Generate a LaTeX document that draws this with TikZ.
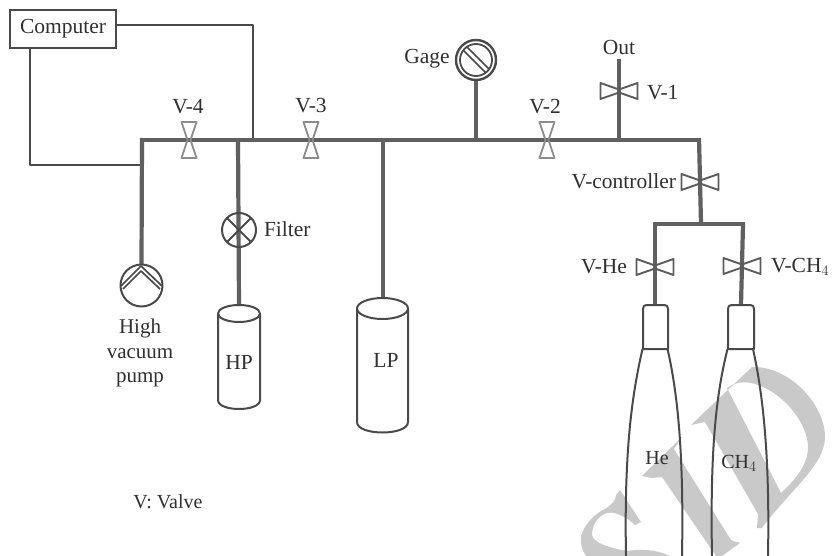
\documentclass[tikz,border=0pt]{standalone}
\usepackage{fontspec}
\setmainfont{Liberation Serif}
\definecolor{wm}{HTML}{C9C9C9}
\definecolor{pipec}{HTML}{606060}
\definecolor{ink}{HTML}{4A4A4A}
\definecolor{txt}{HTML}{303030}
\tikzset{
  pipe/.style={draw=pipec,line width=4.2pt,line cap=butt},
  wire/.style={draw=ink,line width=1.7pt,line join=round},
  outline/.style={draw=ink,line width=2pt,line join=round},
  lbl/.style={text=txt,font=\fontsize{21.5}{24}\selectfont,inner sep=0pt,outer sep=0pt},
  valvev/.pic={\draw[draw=gray!90,line width=1.8pt,line join=round] (-7.5,-18)--(7.5,-18)--(1.5,0)--(7.5,18)--(-7.5,18)--(-1.5,0)--cycle;},
  valveh/.pic={\draw[draw=ink!90,line width=1.9pt,line join=round] (-18.5,-8)--(0,-1.5)--(18.5,-8)--(18.5,8)--(0,1.5)--(-18.5,8)--cycle;},
}
\begin{document}
\begin{tikzpicture}[x=1pt,y=-1pt]
\useasboundingbox (0,0) rectangle (832,556);
\clip (0,0) rectangle (832,556);
\fill[white] (0,0) rectangle (832,556);
% watermark
\fill[wm] (620,490)--(641,522)--(635,525)
  .. controls (628,518) and (616,511) .. (607,513)
  .. controls (597,516) and (592,526) .. (592,535)
  .. controls (593,543) and (610,548) .. (627,551)
  .. controls (640,549) and (655,549) .. (670,556)
  --(586,556)
  .. controls (582,550) and (580,544) .. (581,536)
  .. controls (584,526) and (592,516) .. (603,510)
  .. controls (612,505) and (616,500) .. (616,495)--cycle;
\fill[wm] (642,476)--(682,437)--(674,449)--(731,540)--(740,543)--(722,556)--(716,556)--(662,477)--(652,478)--cycle;
\fill[wm,even odd rule] (691,425)--(752,367)
  .. controls (790,366) and (825,405) .. (825,437)
  .. controls (825,465) and (790,490) .. (762,528)
  --(757,528)--(758,514)--(705,422)--cycle
  (727,388) .. controls (735,382) and (745,381) .. (755,384)
  .. controls (785,393) and (808,425) .. (808,447)
  .. controls (808,465) and (795,480) .. (781,493)--cycle;
% coordinates
\coordinate (nw) at (142,140);
\coordinate (ne) at (699,140);
\coordinate (tf) at (238,140);
\coordinate (tw) at (253,140);
\coordinate (tl) at (383,140);
\coordinate (tg) at (476,140);
\coordinate (to) at (619,140);
\coordinate (tb) at (701,224);
\coordinate (bl) at (655,224);
\coordinate (br) at (743,224);
\coordinate (outend) at (619,59);
\coordinate (v4) at (189,140);
\coordinate (v3) at (311,140);
\coordinate (v2) at (547,140);
\coordinate (v1) at (619,91);
\coordinate (vc) at (700,182);
\coordinate (vhe) at (655,267);
\coordinate (vch) at (742,266);
% nodes
\node[draw=ink,line width=1.9pt,minimum width=106pt,minimum height=38pt,inner sep=0pt,lbl] (comp) at (63,29) {Computer};
\node[circle,minimum size=42pt,inner sep=0pt] (pump) at (141.5,285.5) {};
\node[circle,minimum size=35pt,inner sep=0pt] (filter) at (239,230) {};
\node[circle,minimum size=42pt,inner sep=0pt] (gage) at (476,60) {};
\coordinate (hptop) at (239,306);
\coordinate (lptop) at (383,299);
% wires
\draw[wire] (116,25) -| (tw);
\draw[wire] (30,48) |- (141,165);
% pipes
\draw[pipe,line join=miter] (140,140) -- (701,140);
\draw[pipe] (nw)++(0,-2) -- (pump.north);
\draw[pipe] (tf) -- (hptop);
\draw[pipe] (tl) -- (lptop);
\draw[pipe] (tg) -- (gage.south);
\draw[pipe] (to) -- (outend);
\draw[pipe] (ne)++(0,-2) -- (tb);
\draw[pipe] (653,224) -- (745,224);
\draw[pipe] (bl) -- (655,305);
\draw[pipe] (br) -- (741,305);
% valves
\pic at (v4) {valvev};
\pic at (v3) {valvev};
\pic at (v2) {valvev};
\pic at (v1) {valveh};
\pic at (vc) {valveh};
\pic at (vhe) {valveh};
\pic at (vch) {valveh};
% filter
\draw[outline] (filter) circle (17);
\draw[outline] (filter)++(-12,-12)--++(24,24) (filter)++(12,-12)--++(-24,24);
% gage
\draw[outline,line width=2.4pt] (gage) circle (20);
\draw[outline,line width=1.8pt] (gage) circle (16);
\draw[outline,line width=1.6pt] (463.5,50.5)--(486,73) (466.5,46.5)--(489.5,69.5);
% pump
\draw[outline] (pump) circle (21);
\draw[outline,line width=1.7pt] (121,286)--(141,266)--(162,286) (123,289)--(141,271)--(160,289);
% HP cylinder
\draw[outline] (218,313.5) -- (218,400) .. controls (218,412) and (260,412) .. (260,400) -- (260,313.5);
\draw[outline] (239,313.5) ellipse (21 and 8.5);
% LP cylinder
\draw[outline] (357,308.5) -- (357,422) .. controls (357,436) and (408,436) .. (408,422) -- (408,308.5);
\draw[outline] (382.5,308.5) ellipse (25.5 and 10.5);
% bottles
\draw[outline] (643,349) -- (643,309) .. controls (643,306) and (644,305) .. (647,305) -- (664,305) .. controls (667,305) and (668,306) .. (668,309) -- (668,349) -- cycle;
\draw[outline] (642.5,349) .. controls (632,395) and (624,450) .. (626,556);
\draw[outline] (667.5,349) .. controls (677,390) and (684,450) .. (682,556);
\draw[outline] (728,349) -- (728,309) .. controls (728,306) and (729,305) .. (732,305) -- (750,305) .. controls (753,305) and (754,306) .. (754,309) -- (754,349) -- cycle;
\draw[outline] (727.5,349) .. controls (716,395) and (710,450) .. (712,556);
\draw[outline] (753,349) .. controls (762,390) and (770,450) .. (768,556);
% labels
\node[lbl] (l4) at (188,107) {V-4};
\node[lbl] (l3) at (311,106) {V-3};
\node[lbl] (l2) at (545,107) {V-2};
\node[lbl,anchor=west] (l1) at (647,93) {V-1};
\node[lbl] (lo) at (619,47) {Out};
\node[lbl] (lg) at (427,59) {Gage};
\node[lbl,anchor=west] (lf) at (264,229) {Filter};
\node[lbl,anchor=east] (lc) at (676,181) {V-controller};
\node[lbl,anchor=east] (lhe) at (627,267) {V-He};
\node[lbl,anchor=west] (lch) at (771,267) {V-CH$_4$};
\node[lbl,align=center,font=\fontsize{21}{24.5}\selectfont] (lp) at (140,353) {High\\vacuum\\pump};
\node[lbl] (lhp) at (239,362) {HP};
\node[lbl] (llp) at (386,360) {LP};
\node[lbl,font=\fontsize{20}{24}\selectfont] (lv) at (168,502) {V: Valve};
\node[lbl,font=\fontsize{20}{24}\selectfont] (lh) at (657,458) {He};
\node[lbl,font=\fontsize{20}{24}\selectfont] (lm) at (739,463) {CH$_4$};
\end{tikzpicture}
\end{document}
